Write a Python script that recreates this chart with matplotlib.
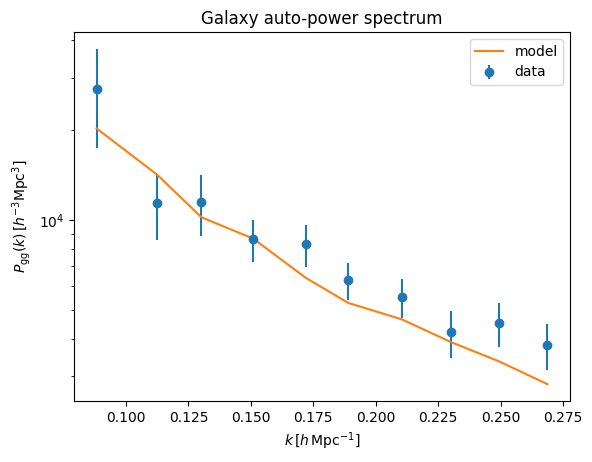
import numpy as np
import matplotlib
matplotlib.use('Agg')
import matplotlib.pyplot as plt

# band powers
k = [0.0882, 0.1125, 0.1302, 0.1509, 0.1721, 0.1890, 0.2105, 0.2302, 0.2492, 0.2688]
pk_data = [27500, 11400, 11520, 8635, 8310, 6290, 5515, 4210, 4510, 3806]
pk_err = [10000, 2850, 2640, 1400, 1320, 870, 830, 750, 760, 670]
pk_model = [20290, 14190, 10220, 8675, 6400, 5280, 4650, 3900, 3370, 2820]

fig = plt.figure(figsize=(5.92, 4.62), dpi=100)
ax = fig.add_axes([74/592, 61/462, 496/592, 369/462])

ax.errorbar(k, pk_data, yerr=pk_err, fmt='o', label='data')
ax.plot(k, pk_model, label='model')
ax.set_yscale('log')

ax.set_xlabel(r'$k\,[h\,\mathrm{Mpc}^{-1}]$')
ax.set_ylabel(r'$P_{\mathrm{gg}}(k)\,[h^{-3}\mathrm{Mpc}^3]$')
ax.set_title('Galaxy auto-power spectrum')
ax.legend(loc='upper right')

fig.savefig('out.png', dpi=100)
